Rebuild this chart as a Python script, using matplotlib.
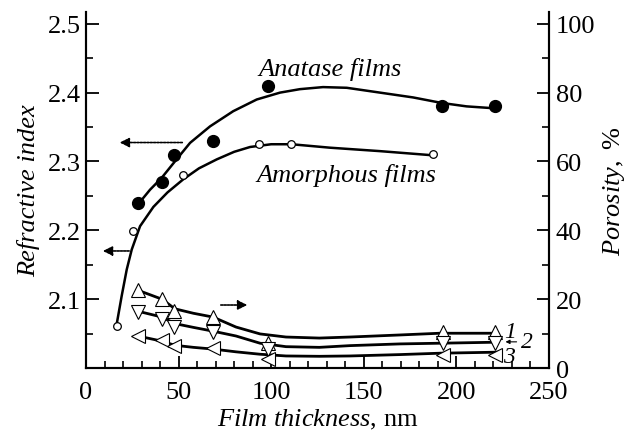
import matplotlib
matplotlib.use("Agg")
import matplotlib.pyplot as plt

plt.rcParams.update({
    "font.family": "Liberation Serif",
    "mathtext.fontset": "custom",
    "mathtext.rm": "Liberation Serif",
    "mathtext.it": "Liberation Serif:italic",
    "axes.linewidth": 1.5,
})

# refractive index, measured points
anatase_x = [28, 41, 47.5, 68.5, 98.5, 192.5, 221]
anatase_n = [2.239, 2.27, 2.31, 2.33, 2.409, 2.38, 2.38]
amorph_x = [16.7, 25.5, 52.5, 93.2, 110.8, 187.3]
amorph_n = [2.061, 2.199, 2.28, 2.326, 2.326, 2.311]

# refractive index, fitted curves
anatase_fit_x = [28.8, 34.6, 40.8, 48.9, 56.2, 67, 79.5, 92.2, 104.8, 115.5,
                 128, 140.8, 158.7, 176.6, 192, 205.5, 221.7]
anatase_fit_n = [2.240, 2.259, 2.276, 2.303, 2.327, 2.351, 2.373, 2.390, 2.400, 2.405,
                 2.408, 2.407, 2.400, 2.393, 2.385, 2.380, 2.377]
amorph_fit_x = [16.6, 19.3, 22, 24.7, 29.2, 36.4, 44, 52.5, 61, 70.6, 80, 88.6,
                100, 111, 131.7, 158.7, 187]
amorph_fit_n = [2.064, 2.105, 2.143, 2.172, 2.206, 2.234, 2.255, 2.274, 2.290, 2.303,
                2.314, 2.321, 2.325, 2.325, 2.320, 2.315, 2.309]

# porosity, measured points (%)
por_x = [28, 41, 47.5, 68.5, 98.5, 193, 221]
por1 = [22.6, 20.0, 16.5, 14.8, 7.2, 10.6, 10.6]
por2 = [16.2, 14.2, 11.9, 10.4, 5.5, 7.3, 7.3]
por3 = [9.3, 8.1, 6.4, 5.8, 2.5, 3.7, 3.7]

# porosity, fitted curves
pfit_x = [28, 41, 48, 58, 68.6, 81, 94, 108, 126, 142.5, 169.5, 191, 222]
pfit1 = [22.6, 20.0, 17.2, 15.9, 14.8, 11.9, 9.9, 9.0, 8.7, 9.0, 9.6, 10.1, 10.1]
pfit2 = [16.5, 14.8, 12.9, 11.8, 10.7, 9.3, 7.2, 6.2, 6.0, 6.5, 7.0, 7.2, 7.5]
pfit3 = [9.3, 7.8, 6.6, 6.0, 5.5, 4.7, 4.0, 3.5, 3.4, 3.5, 3.9, 4.3, 4.6]

fig = plt.figure(figsize=(6.29, 4.35), dpi=100)
ax = fig.add_axes([0.1367, 0.1517, 0.7361, 0.8183])
ax2 = ax.twinx()

ax.plot(anatase_fit_x, anatase_fit_n, color="k", lw=1.8, zorder=2)
ax.plot(amorph_fit_x, amorph_fit_n, color="k", lw=1.8, zorder=2)
ax.plot(anatase_x, anatase_n, "o", color="k", ms=8.5, zorder=3)
ax.plot(amorph_x, amorph_n, "o", mfc="white", mec="k", mew=0.9, ms=5.5, zorder=3)

for y in (pfit1, pfit2, pfit3):
    ax2.plot(pfit_x, y, color="k", lw=2.0, zorder=2)
for y, m in [(por1, "^"), (por2, "v"), (por3, "<")]:
    ax2.plot(por_x, y, m, mfc="white", mec="k", mew=0.8, ms=10, zorder=3)

ax.set_xlim(0, 250)
ax.set_ylim(2.0, 2.517)
ax2.set_ylim(0, 103.4)

ax.set_xticks([0, 50, 100, 150, 200, 250])
ax.set_xticks(range(0, 251, 10), minor=True)
ax.set_yticks([2.1, 2.2, 2.3, 2.4, 2.5])
ax.set_yticks([2.05, 2.15, 2.25, 2.35, 2.45], minor=True)
ax2.set_yticks([0, 20, 40, 60, 80, 100])
ax2.set_yticks([10, 30, 50, 70, 90], minor=True)

for a in (ax, ax2):
    a.spines["top"].set_visible(False)
    a.tick_params(which="major", direction="in", length=9, width=1.3, labelsize=19)
    a.tick_params(which="minor", direction="in", length=5, width=1.2)
ax.tick_params(axis="x", pad=9)
ax2.tick_params(axis="y", pad=5)

ax.set_xlabel(r"$\it{Film\ thickness}$, nm", fontsize=19, labelpad=3)
ax.set_ylabel("Refractive index", fontsize=19, style="italic", labelpad=6)
ax2.set_ylabel(r"$\it{Porosity,}$ %", fontsize=19, labelpad=4)

ax.text(92.9, 2.426, "Anatase films", fontsize=19, style="italic")
ax.text(92.3, 2.272, "Amorphous films", fontsize=19, style="italic")

arr = dict(arrowstyle="-|>", linestyle=(0, (1.2, 0.8)), color="k", lw=1.2,
           mutation_scale=14)
ax.annotate("", xy=(16.7, 2.3275), xytext=(53.5, 2.3275), arrowprops=arr)
ax.annotate("", xy=(7.6, 2.17), xytext=(24.8, 2.17), arrowprops=arr)
ax2.annotate("", xy=(88.6, 18.3), xytext=(71.3, 18.3), arrowprops=arr)

ax2.text(229, 10.6, "1", fontsize=17, style="italic", ha="center", va="center")
ax2.text(238, 7.6, "2", fontsize=17, style="italic", ha="center", va="center")
ax2.text(228.5, 3.4, "3", fontsize=17, style="italic", ha="center", va="center")
ax2.annotate("", xy=(225, 7.6), xytext=(234, 7.6),
             arrowprops=dict(arrowstyle="-|>", color="k", lw=0.8, mutation_scale=6))

fig.savefig("out.png", dpi=100)
